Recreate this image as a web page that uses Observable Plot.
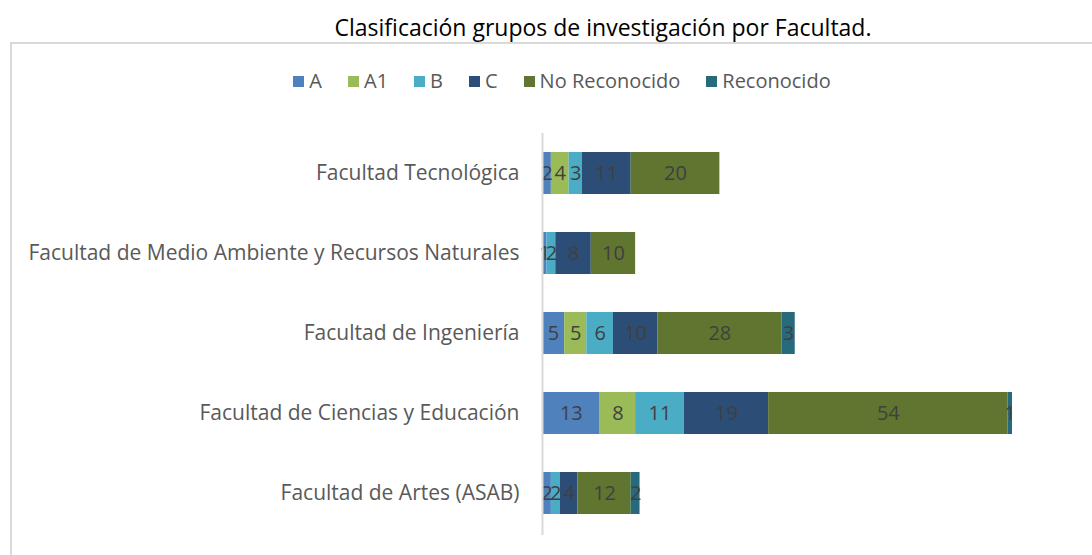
<!DOCTYPE html>
<html>
<head>
<meta charset="utf-8">
<script src="https://cdn.jsdelivr.net/npm/d3@7"></script>
<script src="https://cdn.jsdelivr.net/npm/@observablehq/plot@0.6"></script>
<style>
  html, body { margin: 0; padding: 0; background: #fff; }
  body { width: 1092px; height: 555px; overflow: hidden; position: relative; font-family: "Open Sans", sans-serif; }
  #title { position: absolute; top: 11px; left: 0; width: 1206px; text-align: center; font-size: 23px; line-height: 32px; color: #000; }
  #frame { position: absolute; left: 10px; top: 42px; width: 1100px; height: 540px; border: 2px solid #D9D9D9; box-sizing: border-box; }
  #legend { position: absolute; top: 67px; left: 0; width: 1124px; display: flex; justify-content: center; gap: 26px; font-size: 20px; line-height: 28px; color: #595959; }
  #legend .item { display: flex; align-items: center; gap: 5px; }
  #legend .sw { width: 11px; height: 11px; display: inline-block; }
  #chart { position: absolute; left: 0; top: 120px; }
</style>
</head>
<body>
<div id="title">Clasificación grupos de investigación por Facultad.</div>
<div id="frame"></div>
<div id="legend"></div>
<div id="chart"></div>
<script>
const facultades = [
  "Facultad Tecnológica",
  "Facultad de Medio Ambiente y Recursos Naturales",
  "Facultad de Ingeniería",
  "Facultad de Ciencias y Educación",
  "Facultad de Artes (ASAB)"
];
const series = ["A", "A1", "B", "C", "No Reconocido", "Reconocido"];
const colors = ["#4F81BD", "#9BBB59", "#4BACC6", "#2C4D75", "#5F7530", "#276A7C"];
const valA      = [2, 1, 5, 13, 2];
const valA1     = [4, 0, 5, 8, 0];
const valB      = [3, 2, 6, 11, 2];
const valC      = [11, 8, 10, 19, 4];
const valNoRec  = [20, 10, 28, 54, 12];
const valRec    = [0, 0, 3, 1, 2];
const seriesValues = [valA, valA1, valB, valC, valNoRec, valRec];

const data = [];
series.forEach((s, si) => {
  facultades.forEach((f, fi) => {
    const v = seriesValues[si][fi];
    if (v > 0) data.push({facultad: f, serie: s, value: v});
  });
});

// legend
const lg = document.getElementById("legend");
series.forEach((s, i) => {
  const it = document.createElement("div");
  it.className = "item";
  it.innerHTML = `<span class="sw" style="background:${colors[i]}"></span><span>${s}</span>`;
  lg.appendChild(it);
});

const chart = Plot.plot({
  width: 1092,
  height: 420,
  marginLeft: 542,
  marginRight: 80,
  marginTop: 13,
  marginBottom: 7,
  style: {fontFamily: "'Open Sans', sans-serif", background: "transparent", overflow: "visible"},
  x: {domain: [0, 106], axis: null},
  y: {domain: facultades, paddingInner: 0.48, paddingOuter: 0.24, label: null},
  color: {domain: series, range: colors},
  marks: [
    Plot.barX(data, Plot.stackX({y: "facultad", x: "value", fill: "serie", order: series})),
    Plot.text(data, Plot.stackX({y: "facultad", x: "value", z: "serie", order: series, text: d => String(d.value), fill: "#404040", fontSize: 20})),
    Plot.ruleX([0], {stroke: "#D9D9D9", strokeWidth: 2, insetTop: 0, insetBottom: -2}),
    Plot.axisY({tickSize: 0, tickPadding: 23, fontSize: 21, fill: "#595959", label: null})
  ]
});
document.getElementById("chart").appendChild(chart);
</script>
</body>
</html>
